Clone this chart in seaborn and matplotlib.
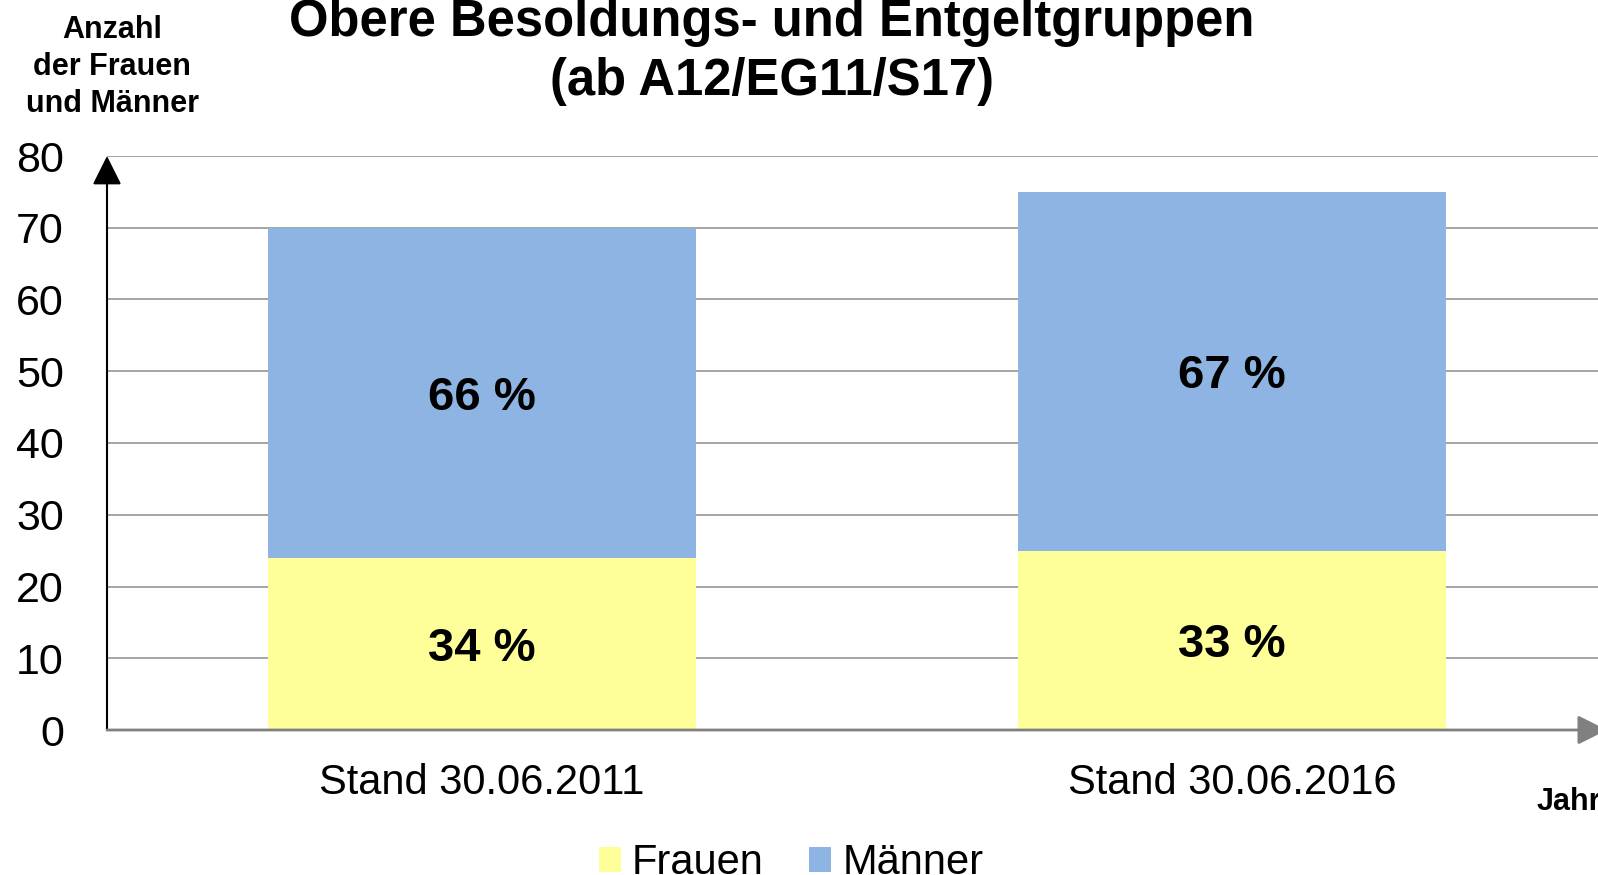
import matplotlib
matplotlib.use("Agg")
import matplotlib.pyplot as plt
from matplotlib.patches import Patch
import seaborn as sns
import pandas as pd

categories = ["Stand 30.06.2011", "Stand 30.06.2016"]
frauen = [24, 25]
maenner = [46, 50]
pct_frauen = ["34 %", "33 %"]
pct_maenner = ["66 %", "67 %"]
y_ticks = [0, 10, 20, 30, 40, 50, 60, 70, 80]

sns.set_theme(style="white")
plt.rcParams['font.family'] = ['Liberation Sans', 'DejaVu Sans']
plt.rcParams['text.color'] = 'black'
plt.rcParams['axes.labelcolor'] = 'black'
plt.rcParams['xtick.color'] = 'black'
plt.rcParams['ytick.color'] = 'black'

col_f = "#FFFF99"
col_m = "#8EB4E3"

df = pd.DataFrame({"Stand": categories, "Frauen": frauen, "Männer": maenner})
df["Gesamt"] = df["Frauen"] + df["Männer"]

fig = plt.figure(figsize=(15.98, 8.75), dpi=100)
ax = fig.add_axes([107/1598, 145/875, 1500/1598, 574/875])

sns.barplot(data=df, x="Stand", y="Gesamt", color=col_m, width=0.57,
            saturation=1, ax=ax, zorder=3, linewidth=0, edgecolor="none")
sns.barplot(data=df, x="Stand", y="Frauen", color=col_f, width=0.57,
            saturation=1, ax=ax, zorder=3, linewidth=0, edgecolor="none")

ax.set_xlim(-0.5, 1.5)
ax.set_ylim(0, 80)
ax.set_yticks(y_ticks)
ax.set_xlabel("")
ax.set_ylabel("")
ax.yaxis.grid(True, color="#8c8c8c", linewidth=1.1, zorder=0)
ax.xaxis.grid(False)
ax.set_axisbelow(True)
for s in ax.spines.values():
    s.set_visible(False)
ax.tick_params(axis="y", length=0, pad=31, labelsize=31, labelcolor="black")
ax.tick_params(axis="x", length=0, pad=24, labelsize=30, labelcolor="black")

# axis arrows
ax.annotate("", xy=(0, 1), xytext=(0, 0), xycoords="axes fraction",
            arrowprops=dict(arrowstyle="-|>,head_length=0.9,head_width=0.45",
                            mutation_scale=20, color="black", lw=1.5,
                            shrinkA=0, shrinkB=0), annotation_clip=False, zorder=5)
ax.annotate("", xy=(1, 0), xytext=(0, 0), xycoords="axes fraction",
            arrowprops=dict(arrowstyle="-|>,head_length=0.9,head_width=0.45",
                            mutation_scale=20, color="#808080", lw=2,
                            shrinkA=0, shrinkB=0), annotation_clip=False, zorder=5)

# percentage labels
for i in range(len(categories)):
    ax.text(i, frauen[i] / 2, pct_frauen[i], ha="center", va="center_baseline",
            fontsize=34, fontweight="bold", color="black", zorder=6)
    ax.text(i, frauen[i] + maenner[i] / 2, pct_maenner[i], ha="center",
            va="center_baseline", fontsize=34, fontweight="bold", color="black", zorder=6)

# title
fig.text(772/1598, 1 - 36/875, "Obere Besoldungs- und Entgeltgruppen",
         ha="center", va="baseline", fontsize=36.5, fontweight="bold", color="black")
fig.text(772/1598, 1 - 95/875, "(ab A12/EG11/S17)",
         ha="center", va="baseline", fontsize=36.5, fontweight="bold", color="black")

# y label
for txt, yb in [("Anzahl", 38), ("der Frauen", 75), ("und Männer", 112)]:
    fig.text(112/1598, 1 - yb/875, txt, ha="center", va="baseline",
             fontsize=22, fontweight="bold", color="black")

# x label
fig.text(1537/1598, 1 - 810/875, "Jahr", ha="left", va="baseline",
         fontsize=22, fontweight="bold", color="black")

# legend
handles = [Patch(facecolor=col_f, edgecolor="none", label="Frauen"),
           Patch(facecolor=col_m, edgecolor="none", label="Männer")]
fig.legend(handles=handles, loc="center", bbox_to_anchor=(791/1598, 1 - 863/875),
           ncol=2, frameon=False, fontsize=30, handlelength=0.53, handleheight=0.53,
           handletextpad=0.26, columnspacing=1.1, borderpad=0)

fig.savefig("out.png", dpi=100)
